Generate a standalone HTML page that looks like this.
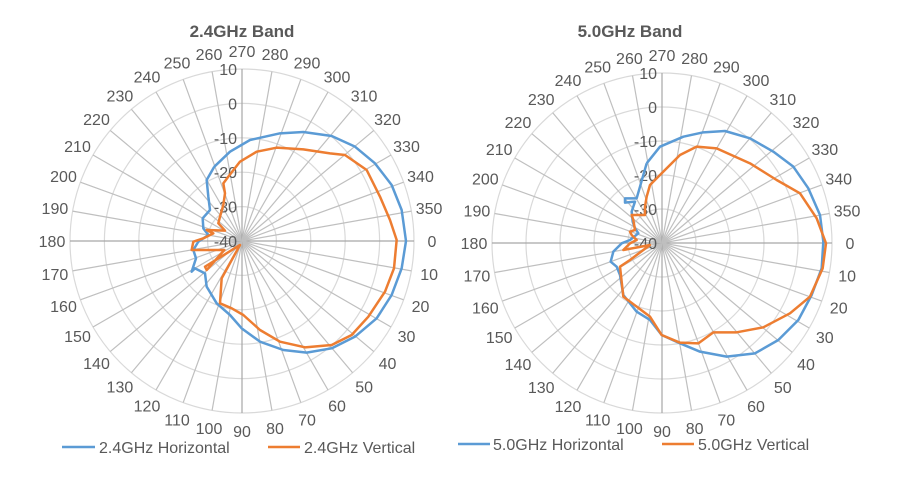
<!DOCTYPE html>
<html><head><meta charset="utf-8"><style>body{margin:0;background:#fff}svg{display:block}text{font-family:"Liberation Sans",sans-serif;fill:#595959}</style></head>
<body>
<svg id="s" width="899" height="490" viewBox="0 0 899 490" xmlns="http://www.w3.org/2000/svg">
<text x="242" y="37" text-anchor="middle" font-size="17" font-weight="bold">2.4GHz Band</text>
<text x="630" y="37" text-anchor="middle" font-size="17" font-weight="bold">5.0GHz Band</text>
<g id="g1"></g><g id="g2"></g>
<g transform="translate(30,20) scale(0.33333)" fill="none" stroke-linejoin="round">
<polyline vector-effect="non-scaling-stroke" stroke="#5b9bd5" stroke-width="2.5" points="553,440 600,395 660,360 750,340 820,336 905,348 975,380 1035,430 1085,495 1115,570 1128,663 1115,745 1085,825 1040,895 975,950 905,985 830,998 760,990 690,965 635,925 600,885 560,850 530,800 525,760 495,745 485,755 498,715 490,690 505,665 535,645 520,625 518,595 540,570 535,530 530,480 553,440"/>
<polyline vector-effect="non-scaling-stroke" stroke="#ed7d31" stroke-width="2.5" points="595,470 630,425 680,395 740,383 820,388 900,400 945,405 1010,450 1050,530 1080,600 1100,660 1092,745 1065,815 1015,890 965,945 905,975 825,982 750,965 690,930 640,885 605,865 570,850 575,775 630,675 525,740 530,750 583,690 485,690 490,665 520,655 550,640 530,630 585,632 565,610 570,590 580,555 585,520 580,490 595,470"/>
</g>
<g transform="translate(450,20) scale(0.33333)" fill="none" stroke-linejoin="round">
<polyline vector-effect="non-scaling-stroke" stroke="#5b9bd5" stroke-width="2.5" points="590,430 630,380 700,350 760,337 825,333 900,355 970,395 1030,440 1075,505 1110,585 1120,665 1115,745 1085,825 1045,900 985,960 915,1000 830,1010 750,995 690,970 635,945 600,900 560,875 520,825 510,765 500,740 482,725 490,695 515,670 540,660 565,640 555,625 548,605 545,575 555,545 525,548 525,535 560,535 570,500 590,430"/>
<polyline vector-effect="non-scaling-stroke" stroke="#ed7d31" stroke-width="2.5" points="590,530 600,495 640,455 690,405 740,380 800,385 900,430 980,480 1050,520 1100,595 1128,670 1118,745 1080,830 1020,880 940,922 860,937 790,937 745,970 690,968 635,945 600,890 560,860 520,830 510,740 540,720 600,675 520,690 540,670 560,660 545,645 540,635 555,630 550,600 545,585 585,585 585,560 590,530"/>
</g>
<line x1="62" y1="447" x2="95" y2="447" stroke="#5b9bd5" stroke-width="2.5"/><text x="99" y="453" font-size="16">2.4GHz Horizontal</text>
<line x1="268" y1="447" x2="300" y2="447" stroke="#ed7d31" stroke-width="2.5"/><text x="304" y="453" font-size="16">2.4GHz Vertical</text>
<line x1="458" y1="444" x2="490" y2="444" stroke="#5b9bd5" stroke-width="2.5"/><text x="493" y="450" font-size="16">5.0GHz Horizontal</text>
<line x1="662" y1="444" x2="694" y2="444" stroke="#ed7d31" stroke-width="2.5"/><text x="698" y="450" font-size="16">5.0GHz Vertical</text>
</svg>
<script>
function grid(id,cx,cy,R){
 var g=document.getElementById(id),h='';
 for(var k=1;k<=5;k++)h+='<circle cx="'+cx+'" cy="'+cy+'" r="'+(R*k/5)+'" fill="none" stroke="#d9d9d9" stroke-width="1.2"/>';
 for(var a=0;a<360;a+=10){var t=a*Math.PI/180,x=cx+R*Math.cos(t),y=cy+R*Math.sin(t);
  var c=(a%90==0)?'#a6a6a6':'#bfbfbf';
  h+='<line x1="'+cx+'" y1="'+cy+'" x2="'+x.toFixed(1)+'" y2="'+y.toFixed(1)+'" stroke="'+c+'" stroke-width="1.2"/>';
  var lx=cx+(R+18)*Math.cos(t),ly=cy+(R+18)*Math.sin(t)+6;
  h+='<text x="'+lx.toFixed(1)+'" y="'+ly.toFixed(1)+'" text-anchor="middle" font-size="16">'+a+'</text>';}
 var v=['-40','-30','-20','-10','0','10'];
 for(var k=0;k<6;k++)h+='<text x="'+(cx-5)+'" y="'+(cy-R*k/5+6)+'" text-anchor="end" font-size="16">'+v[k]+'</text>';
 g.innerHTML=h;
}
grid('g1',242,241,172);grid('g2',662,243,170);
</script>
</body></html>
